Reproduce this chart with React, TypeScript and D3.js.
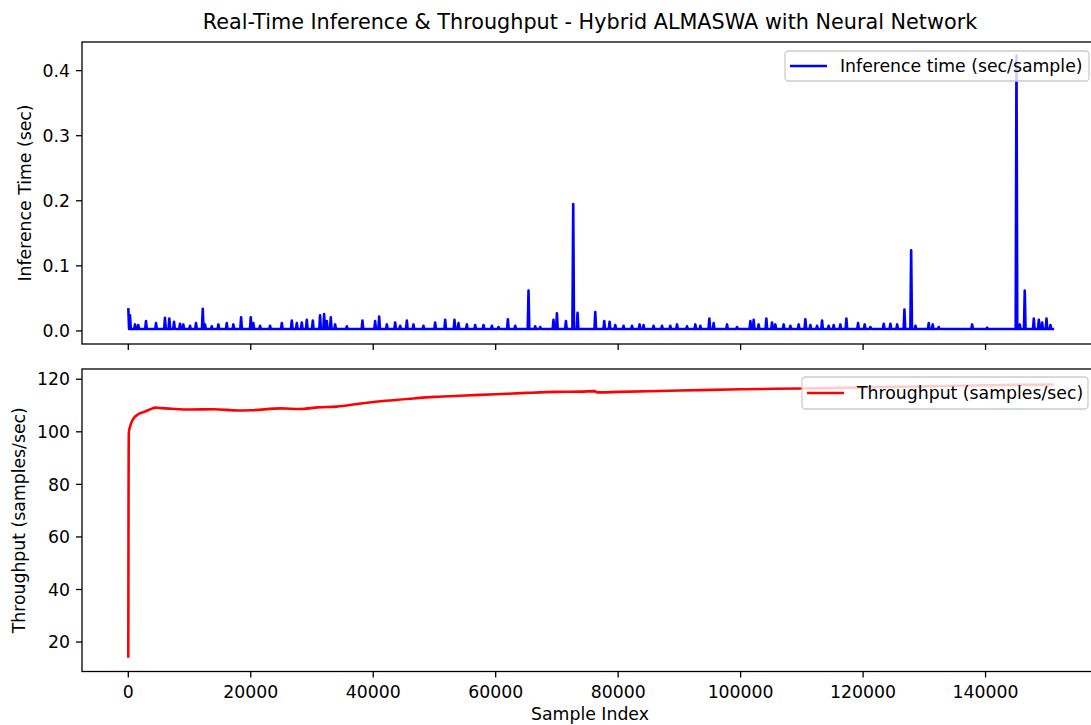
import React from "react";
import * as d3 from "d3";

// ---------- DATA ----------
const title = "Real-Time Inference & Throughput - Hybrid ALMASWA with Neural Network";
const xTicks = [0, 20000, 40000, 60000, 80000, 100000, 120000, 140000];
const infTicks = [0.0, 0.1, 0.2, 0.3, 0.4];
const thrTicks = [20, 40, 60, 80, 100, 120];

const baseInference = 0.003;
const lastSample = 151200;
// spikes [sample index, inference time]
const inferenceSpikes: [number, number][] = [
  [0, 0.035], [280, 0.024], [1095, 0.01], [1630, 0.009], [2890, 0.015], [4530, 0.012],
  [5990, 0.02], [6700, 0.019], [7470, 0.014], [8450, 0.011], [8990, 0.01], [10080, 0.008],
  [11060, 0.012], [12160, 0.034], [12530, 0.01], [13630, 0.007], [14710, 0.01], [16080, 0.012],
  [17160, 0.01], [18420, 0.021], [20000, 0.021], [20430, 0.012], [21520, 0.008], [23150, 0.008],
  [25070, 0.012], [26700, 0.016], [27520, 0.012], [28330, 0.013], [29150, 0.017], [30130, 0.016],
  [31320, 0.024], [31980, 0.026], [32420, 0.015], [33070, 0.021], [33780, 0.01], [35690, 0.007],
  [38240, 0.016], [40310, 0.015], [40970, 0.022], [42220, 0.01], [43580, 0.013], [44400, 0.008],
  [45490, 0.016], [46570, 0.01], [48200, 0.008], [50110, 0.013], [51750, 0.017], [53270, 0.017],
  [53920, 0.012], [55290, 0.01], [56650, 0.009], [58010, 0.009], [59380, 0.008], [60460, 0.006],
  [61990, 0.018], [63190, 0.008], [65360, 0.062], [66450, 0.007], [67270, 0.006], [69440, 0.017],
  [70000, 0.027], [71470, 0.015], [72660, 0.195], [73370, 0.028], [76260, 0.029], [77730, 0.015],
  [78600, 0.014], [79530, 0.009], [80880, 0.008], [82260, 0.008], [83500, 0.01], [84150, 0.009],
  [85790, 0.008], [87160, 0.008], [88510, 0.008], [89610, 0.01], [91240, 0.007], [92600, 0.01],
  [93420, 0.008], [94890, 0.019], [95590, 0.012], [97780, 0.01], [99410, 0.006], [101590, 0.015],
  [102130, 0.017], [102940, 0.01], [104200, 0.019], [105130, 0.013], [105670, 0.01], [107030, 0.01],
  [108120, 0.008], [109480, 0.01], [110570, 0.018], [111390, 0.009], [112480, 0.008], [113300, 0.016],
  [114380, 0.008], [115200, 0.009], [116290, 0.01], [117270, 0.019], [119180, 0.012], [120260, 0.01],
  [121190, 0.006], [123370, 0.011], [124460, 0.011], [125560, 0.01], [126750, 0.033], [127850, 0.124],
  [128550, 0.008], [130720, 0.012], [131370, 0.01], [132350, 0.006], [137810, 0.01], [140260, 0.005],
  [145050, 0.423], [145590, 0.01], [146400, 0.062], [147880, 0.019], [148700, 0.017], [149240, 0.013],
  [149950, 0.019], [150600, 0.009],
];

// throughput [sample index, samples/sec]
const throughputIdx = [
  0, 30, 60, 100, 300, 600, 1000, 1500, 2500, 3500, 4500, 5500, 7000, 10000, 14000, 18000, 20000,
  25000, 28000, 31000, 34000, 38000, 42000, 46000, 50000, 55000, 60000, 65000, 70000, 74000, 76200,
  76500, 80000, 90000, 100000, 110000, 120000, 130000, 140000, 151200,
];
const throughputVal = [
  14, 60, 92, 100, 102, 104, 105.5, 106.5, 107.5, 108.5, 109.2, 109.0, 108.8, 108.5, 108.6, 108.1, 108.2,
  108.9, 108.7, 109.3, 109.6, 110.8, 111.8, 112.6, 113.3, 113.8, 114.3, 114.8, 115.2, 115.3, 115.5,
  115.0, 115.2, 115.7, 116.2, 116.5, 116.9, 117.3, 117.7, 118.0,
];

// ---------- LAYOUT ----------
const W = 1091;
const H = 725;
const L = 82;
const R = 1097;
const top1 = 42, bot1 = 344;
const top2 = 369, bot2 = 671.5;
const FONT = "DejaVu Sans, sans-serif";
const FS = 17.3;
const TICK = 6;
const SW = 1.3;

export default function App() {
  const x = d3.scaleLinear().domain([-7560, 158200]).range([L, R]);
  const y1 = d3.scaleLinear().domain([-0.0201, 0.444]).range([bot1, top1]);
  const y2 = d3.scaleLinear().domain([8.8, 123.9]).range([bot2, top2]);

  const infPts: [number, number][] = [];
  inferenceSpikes.forEach(([i, v], k) => {
    if (k > 0) infPts.push([i - 130, baseInference]);
    infPts.push([i, v]);
    infPts.push([i + 130, baseInference]);
  });
  infPts.push([lastSample, baseInference]);

  const line1 = d3.line<[number, number]>().x((d) => x(d[0])).y((d) => y1(d[1]));
  const thrPts: [number, number][] = throughputIdx.map((i, k) => [i, throughputVal[k]]);
  const line2 = d3
    .line<[number, number]>()
    .x((d) => x(d[0]))
    .y((d) => y2(d[1]))
    .curve(d3.curveMonotoneX);

  const axisColor = "#000";
  const cx = (L + R) / 2 + 0.5;

  const frame = (t: number, b: number) => (
    <rect x={L} y={t} width={R - L} height={b - t} fill="none" stroke={axisColor} strokeWidth={SW} />
  );

  const legend = (bx: number, by: number, bw: number, bh: number, color: string, label: string) => (
    <g>
      <rect x={bx} y={by} width={bw} height={bh} rx={3.5} ry={3.5} fill="white" fillOpacity={0.8} stroke="#cccccc" strokeWidth={SW} />
      <line x1={bx + 5} x2={bx + 42} y1={by + bh / 2} y2={by + bh / 2} stroke={color} strokeWidth={2.6} />
      <text x={bx + 55} y={by + bh / 2} dy="0.36em" fontSize={FS} fontFamily={FONT} fill="#000">
        {label}
      </text>
    </g>
  );

  return (
    <svg width={W} height={H} style={{ position: "absolute", left: 0, top: 0, background: "white" }}>
      <rect x={0} y={0} width={W} height={H} fill="white" />
      <text x={cx} y={29} textAnchor="middle" fontSize={20.75} fontFamily={FONT} fill="#000">
        {title}
      </text>

      <defs>
        <clipPath id="c1"><rect x={L} y={top1} width={R - L} height={bot1 - top1} /></clipPath>
        <clipPath id="c2"><rect x={L} y={top2} width={R - L} height={bot2 - top2} /></clipPath>
      </defs>

      {/* top panel */}
      <path d={line1(infPts) || ""} fill="none" stroke="#0000ff" strokeWidth={2.6} strokeLinejoin="round" clipPath="url(#c1)" />
      {frame(top1, bot1)}
      {infTicks.map((t) => (
        <g key={"i" + t}>
          <line x1={L - TICK} x2={L} y1={y1(t)} y2={y1(t)} stroke={axisColor} strokeWidth={SW} />
          <text x={L - TICK - 6} y={y1(t)} dy="0.36em" textAnchor="end" fontSize={FS} fontFamily={FONT} fill="#000">
            {t.toFixed(1)}
          </text>
        </g>
      ))}
      {xTicks.map((t) => (
        <line key={"xt1" + t} x1={x(t)} x2={x(t)} y1={bot1} y2={bot1 + TICK} stroke={axisColor} strokeWidth={SW} />
      ))}
      <text transform={`translate(31.4,${(top1 + bot1) / 2}) rotate(-90)`} textAnchor="middle" fontSize={FS} fontFamily={FONT} fill="#000">
        Inference Time (sec)
      </text>
      {legend(785, 51, 304, 30, "#0000ff", "Inference time (sec/sample)")}

      {/* bottom panel */}
      <path d={line2(thrPts) || ""} fill="none" stroke="#ff0000" strokeWidth={2.6} strokeLinejoin="round" clipPath="url(#c2)" />
      {frame(top2, bot2)}
      {thrTicks.map((t) => (
        <g key={"t" + t}>
          <line x1={L - TICK} x2={L} y1={y2(t)} y2={y2(t)} stroke={axisColor} strokeWidth={SW} />
          <text x={L - TICK - 6} y={y2(t)} dy="0.36em" textAnchor="end" fontSize={FS} fontFamily={FONT} fill="#000">
            {t}
          </text>
        </g>
      ))}
      {xTicks.map((t) => (
        <g key={"xt2" + t}>
          <line x1={x(t)} x2={x(t)} y1={bot2} y2={bot2 + TICK} stroke={axisColor} strokeWidth={SW} />
          <text x={x(t)} y={697.5} textAnchor="middle" fontSize={FS} fontFamily={FONT} fill="#000">
            {t}
          </text>
        </g>
      ))}
      <text transform={`translate(24.8,${(top2 + bot2) / 2}) rotate(-90)`} textAnchor="middle" fontSize={FS} fontFamily={FONT} fill="#000">
        Throughput (samples/sec)
      </text>
      {legend(802, 377, 286, 32, "#ff0000", "Throughput (samples/sec)")}
      <text x={cx} y={719.5} textAnchor="middle" fontSize={FS} fontFamily={FONT} fill="#000">
        Sample Index
      </text>
    </svg>
  );
}
